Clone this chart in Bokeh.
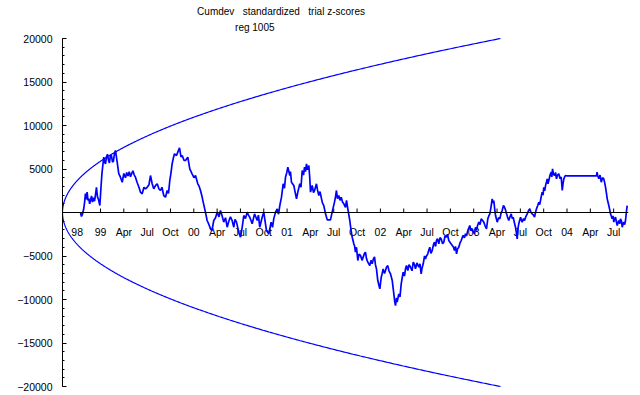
import numpy as np
from bokeh.plotting import figure
from bokeh.models import Range1d, SingleIntervalTicker, Span
from bokeh.core.properties import value
from bokeh.embed import file_html
from bokeh.resources import INLINE

# ---------------- data ----------------
title_text = "Cumdev\u00a0\u00a0 standardized\u00a0\u00a0 trial z-scores"
subtitle_text = "reg 1005"

tick_labels = ["98", "99", "Apr", "Jul", "Oct", "00", "Apr", "Jul", "Oct",
               "01", "Apr", "Jul", "Oct", "02", "Apr", "Jul", "Oct",
               "03", "Apr", "Jul", "Oct", "04", "Apr", "Jul"]
tick_years = [1998.75, 1999.0, 1999.25, 1999.5, 1999.75, 2000.0, 2000.25, 2000.5,
              2000.75, 2001.0, 2001.25, 2001.5, 2001.75, 2002.0, 2002.25, 2002.5,
              2002.75, 2003.0, 2003.25, 2003.5, 2003.75, 2004.0, 2004.25, 2004.5]

# 2-sigma style envelope: starts at series origin and reaches +/-20000
env_start = 1998.593
env_end = 2003.287
env_max = 20000

trace_years = [
    1998.786, 1998.796, 1998.807, 1998.821, 1998.830, 1998.839, 1998.848, 1998.857,
    1998.866, 1998.875, 1998.884, 1998.893, 1998.904, 1998.914, 1998.925, 1998.936,
    1998.946, 1998.957, 1998.968, 1998.979, 1998.993, 1999.008, 1999.016, 1999.025,
    1999.035, 1999.045, 1999.054, 1999.064, 1999.075, 1999.086, 1999.096, 1999.107,
    1999.118, 1999.129, 1999.139, 1999.150, 1999.161, 1999.179, 1999.196, 1999.214,
    1999.233, 1999.250, 1999.268, 1999.281, 1999.295, 1999.308, 1999.322, 1999.335,
    1999.348, 1999.362, 1999.375, 1999.392, 1999.412, 1999.429, 1999.447, 1999.466,
    1999.482, 1999.500, 1999.520, 1999.536, 1999.554, 1999.571, 1999.589, 1999.608,
    1999.627, 1999.643, 1999.659, 1999.678, 1999.697, 1999.715, 1999.729, 1999.743,
    1999.755, 1999.768, 1999.780, 1999.793, 1999.815, 1999.831, 1999.847, 1999.863,
    1999.876, 1999.895, 1999.911, 1999.936, 1999.957, 1999.982, 2000.002, 2000.018,
    2000.043, 2000.058, 2000.072, 2000.087, 2000.101, 2000.125, 2000.143, 2000.163,
    2000.179, 2000.195, 2000.214, 2000.233, 2000.251, 2000.270, 2000.286, 2000.304,
    2000.321, 2000.340, 2000.358, 2000.375, 2000.393, 2000.411, 2000.429, 2000.442,
    2000.458, 2000.482, 2000.501, 2000.519, 2000.536, 2000.554, 2000.572, 2000.586,
    2000.600, 2000.626, 2000.651, 2000.680, 2000.693, 2000.707, 2000.733, 2000.750,
    2000.779, 2000.804, 2000.829, 2000.844, 2000.857, 2000.876, 2000.894, 2000.908,
    2000.922, 2000.940, 2000.958, 2000.972, 2000.983, 2000.997, 2001.008, 2001.029,
    2001.036, 2001.047, 2001.072, 2001.085, 2001.101, 2001.115, 2001.136, 2001.149,
    2001.162, 2001.176, 2001.187, 2001.197, 2001.208, 2001.219, 2001.233, 2001.243,
    2001.251, 2001.269, 2001.283, 2001.294, 2001.315, 2001.326, 2001.340, 2001.353,
    2001.369, 2001.379, 2001.393, 2001.412, 2001.430, 2001.465, 2001.483, 2001.508,
    2001.519, 2001.529, 2001.540, 2001.554, 2001.567, 2001.580, 2001.594, 2001.608,
    2001.626, 2001.637, 2001.651, 2001.672, 2001.685, 2001.698, 2001.715, 2001.722,
    2001.733, 2001.744, 2001.758, 2001.771, 2001.787, 2001.803, 2001.816, 2001.830,
    2001.840, 2001.851, 2001.865, 2001.886, 2001.899, 2001.912, 2001.926, 2001.937,
    2001.947, 2001.958, 2001.972, 2001.983, 2001.994, 2002.009, 2002.019, 2002.030,
    2002.044, 2002.055, 2002.065, 2002.079, 2002.092, 2002.108, 2002.127, 2002.144,
    2002.153, 2002.162, 2002.173, 2002.180, 2002.197, 2002.210, 2002.223, 2002.234,
    2002.244, 2002.258, 2002.269, 2002.280, 2002.294, 2002.307, 2002.323, 2002.339,
    2002.352, 2002.366, 2002.376, 2002.392, 2002.412, 2002.424, 2002.437, 2002.446,
    2002.459, 2002.473, 2002.483, 2002.494, 2002.508, 2002.519, 2002.529, 2002.542,
    2002.555, 2002.569, 2002.580, 2002.591, 2002.601, 2002.612, 2002.626, 2002.639,
    2002.652, 2002.666, 2002.680, 2002.692, 2002.708, 2002.719, 2002.733, 2002.751,
    2002.770, 2002.784, 2002.794, 2002.805, 2002.816, 2002.826, 2002.840, 2002.853,
    2002.866, 2002.880, 2002.887, 2002.901, 2002.912, 2002.923, 2002.937, 2002.947,
    2002.958, 2002.971, 2002.984, 2002.998, 2003.009, 2003.019, 2003.030, 2003.041,
    2003.055, 2003.068, 2003.080, 2003.094, 2003.108, 2003.121, 2003.137, 2003.151,
    2003.162, 2003.173, 2003.185, 2003.198, 2003.207, 2003.215, 2003.225, 2003.234,
    2003.252, 2003.266, 2003.280, 2003.293, 2003.305, 2003.319, 2003.330, 2003.341,
    2003.352, 2003.362, 2003.376, 2003.389, 2003.402, 2003.413, 2003.423, 2003.437,
    2003.448, 2003.457, 2003.466, 2003.475, 2003.483, 2003.493, 2003.502, 2003.512,
    2003.520, 2003.534, 2003.545, 2003.558, 2003.573, 2003.587, 2003.601, 2003.614,
    2003.627, 2003.641, 2003.652, 2003.662, 2003.673, 2003.686, 2003.698, 2003.707,
    2003.716, 2003.727, 2003.734, 2003.743, 2003.751, 2003.761, 2003.770, 2003.780,
    2003.788, 2003.796, 2003.805, 2003.818, 2003.831, 2003.837, 2003.845, 2003.855,
    2003.866, 2003.877, 2003.887, 2003.898, 2003.912, 2003.925, 2003.938, 2003.949,
    2003.957, 2003.966, 2003.975, 2003.984, 2004.002, 2004.316, 2004.322, 2004.330,
    2004.341, 2004.354, 2004.367, 2004.381, 2004.394, 2004.404, 2004.413, 2004.423,
    2004.431, 2004.439, 2004.448, 2004.458, 2004.466, 2004.477, 2004.484, 2004.493,
    2004.502, 2004.511, 2004.520, 2004.528, 2004.538, 2004.547, 2004.555, 2004.565,
    2004.573, 2004.584, 2004.592, 2004.600, 2004.609, 2004.618, 2004.627, 2004.638,
    2004.645,
]

trace_values = [
    0, -460, -200, 460, 1200, 2180, 1500, 2340,
    1400, 1600, 1000, 1380, 1900, 1200, 1700, 1300,
    2000, 2900, 1800, 1500, 800, 3300, 4500, 5400,
    6360, 5800, 5600, 6400, 6700, 6000, 5700, 6600,
    6500, 5800, 5900, 6800, 7130, 5780, 4480, 4060,
    3480, 4480, 4000, 4600, 4200, 4700, 4100, 4500,
    4800, 4300, 4060, 3480, 2900, 2340, 2150, 2900,
    2720, 2900, 3200, 4250, 3300, 2720, 3100, 3300,
    2700, 2530, 2900, 1950, 1760, 2530, 2200, 3680,
    4500, 5600, 6200, 6750, 6550, 7000, 7440, 6400,
    6550, 6000, 5980, 6360, 5020, 4450, 4000, 4250,
    3300, 3000, 2530, 1900, 1190, 40, -920, -1400,
    -1880, -2070, -920, -600, 40, -500, 230, -400,
    -1110, -600, -1690, -1000, -500, -920, -1690, -800,
    -1110, -2260, -2840, -1690, -345, -700, 40, -300,
    -540, -1300, -160, -920, -300, -1690, -540, 40,
    -2070, -2450, -1110, -1700, -730, 40, 420, -200,
    800, 1760, 3300, 2800, 4060, 4600, 5210, 4250,
    4700, 3480, 3100, 2400, 1570, 2340, 3300, 2900,
    4830, 4300, 5210, 4700, 5600, 4900, 5400, 4000,
    2340, 3100, 2300, 2530, 3300, 2600, 1950, 2400,
    1570, 1100, 800, -150, -840, -840, 40, 1190,
    1800, 2530, 1600, 1950, 1400, 1760, 1200, 1000,
    600, 1380, 420, -920, -2000, -2840, -3600, -3790,
    -4560, -4000, -5520, -4800, -4940, -5500, -5100, -4700,
    -4560, -5300, -5710, -6100, -5500, -5900, -5300, -5100,
    -6000, -6480, -7820, -8300, -8780, -7440, -7000, -6480,
    -7000, -6670, -6300, -6100, -6700, -7050, -7820, -9350,
    -10200, -10700, -9800, -10300, -9350, -9700, -8200, -7500,
    -6860, -7300, -6480, -6100, -6670, -6000, -6290, -6700,
    -5710, -6000, -6480, -5800, -6290, -5900, -7050, -6400,
    -5900, -5000, -5330, -5000, -4750, -4300, -3990, -4700,
    -4370, -3700, -3410, -3900, -3220, -3000, -3600, -2900,
    -3030, -3600, -3410, -2700, -2840, -2500, -3220, -3500,
    -3790, -4000, -4370, -3900, -4750, -4200, -3990, -3500,
    -3220, -2800, -2640, -2900, -2450, -2700, -2070, -1800,
    -1500, -2100, -1880, -2300, -2450, -1700, -2070, -1500,
    -1110, -1400, -730, -900, -1110, -1500, -1880, -730,
    -400, -150, 600, 1570, 1100, 1380, 400, -345,
    -1110, -600, -730, -100, 230, 800, 610, 300,
    -150, -500, -920, -500, -150, -700, -540, -1200,
    -1690, -2300, -3030, -1800, -1300, -900, -540, -900,
    -1110, -700, -920, -500, -150, 200, 420, 0,
    -150, -300, -540, 0, 420, 800, 1190, 900,
    1380, 2000, 2340, 2000, 2900, 2500, 3100, 3500,
    3870, 3300, 3680, 4300, 4640, 4100, 5020, 4400,
    4250, 4600, 3870, 4300, 4450, 3900, 4060, 2530,
    3300, 3870, 4100, 4250, 4200, 4200, 4640, 4200,
    3870, 4300, 3480, 4000, 3870, 3400, 2900, 2200,
    1570, 1200, 800, 300, -150, -500, -730, -400,
    -1110, -700, -540, -1000, -1500, -1100, -920, -1300,
    -730, -1000, -1690, -1300, -1110, -1400, -920, 230,
    800,
]

# ---------------- figure ----------------
W, H = 636, 394
ML, MR = 62, 8
x_lo, x_hi = 1998.593, 2004.659
units_per_px = 1000 / 8.7
y_hi = 212 * units_per_px
y_lo = -(H - 212) * units_per_px

p = figure(width=W, height=H, output_backend="svg", toolbar_location=None,
           x_range=Range1d(x_lo, x_hi), y_range=Range1d(y_lo, y_hi),
           x_axis_location=None, title=None,
           min_border_left=ML, min_border_right=MR, min_border_top=0,
           min_border_bottom=0)
p.outline_line_color = None
p.grid.visible = False
p.background_fill_color = "white"
p.border_fill_color = "white"

FONT = "Liberation Sans"
FS = "10.5px"
TFS = "10px"

yax = p.yaxis[0]
yax.ticker = SingleIntervalTicker(interval=5000, num_minor_ticks=5)
yax.bounds = (-20000, 20000)
yax.major_label_overrides = {0: ""}
yax.major_tick_in = 4
yax.major_tick_out = 0
yax.minor_tick_in = 2
yax.minor_tick_out = 0
yax.major_label_standoff = 10
yax.major_label_text_font = FONT
yax.major_label_text_font_size = FS
yax.major_label_text_color = "black"
yax.axis_line_color = "black"
yax.major_tick_line_color = "black"
yax.minor_tick_line_color = "black"

# horizontal axis through zero
p.add_layout(Span(location=0, dimension="width", line_color="black", line_width=1))
tick_len = 4 * units_per_px
p.segment(x0=tick_years[1:], y0=[0] * (len(tick_years) - 1),
          x1=tick_years[1:], y1=[tick_len] * (len(tick_years) - 1),
          line_color="black", line_width=1)
p.text(x=tick_years, y=[0] * len(tick_years), text=tick_labels,
       text_font=value(FONT), text_font_size=value(FS), text_color="black",
       text_align="center", text_baseline="alphabetic", y_offset=19)

# envelope
t = env_start + (env_end - env_start) * np.linspace(0, 1, 400) ** 2
env = env_max * np.sqrt((t - env_start) / (env_end - env_start))
p.line(t, env, line_color="#0000ff", line_width=1.2)
p.line(t, -env, line_color="#0000ff", line_width=1.2)

# cumulative deviation trace
p.line(trace_years, trace_values, line_color="#0000ff", line_width=1.7)

# titles
p.text(x=[2000.935], y=[y_hi], text=[title_text], text_font=value(FONT),
       text_font_size=value(TFS), text_color="black", text_align="center",
       text_baseline="alphabetic", y_offset=10.7)
p.text(x=[2000.654], y=[y_hi], text=[subtitle_text], text_font=value(FONT),
       text_font_size=value(TFS), text_color="black", text_align="center",
       text_baseline="alphabetic", y_offset=26.5)

open("out.html", "w").write(file_html(p, INLINE))
